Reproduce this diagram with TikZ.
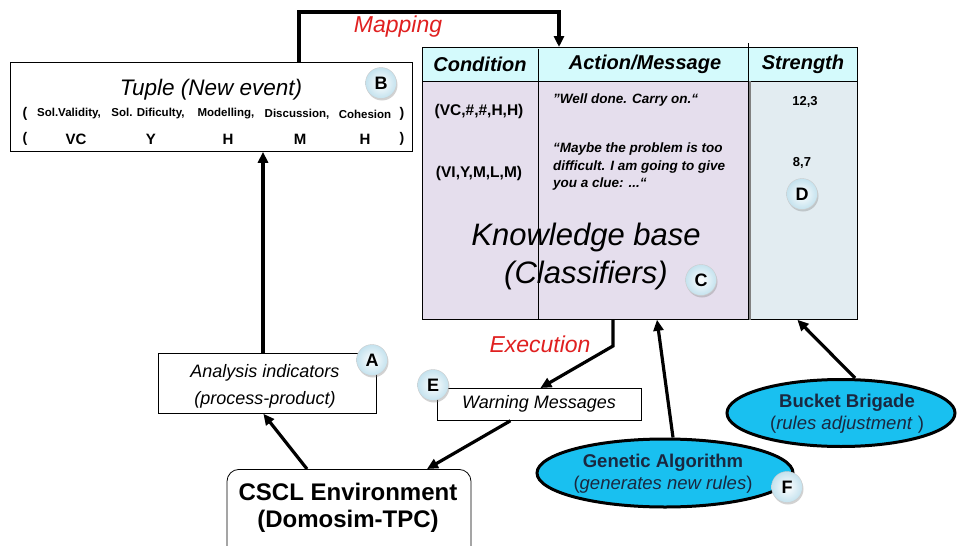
\documentclass[tikz,border=0pt]{standalone}
\usepackage{fontspec}
\setmainfont{Liberation Sans}
\usetikzlibrary{arrows.meta,shapes.geometric,shadows}
\newcommand\fsz[2]{\fontsize{#1}{#2}\selectfont}
\definecolor{hdrfill}{RGB}{212,250,252}
\definecolor{kbfill}{RGB}{229,222,237}
\definecolor{strfill}{RGB}{226,236,241}
\definecolor{ellfill}{RGB}{25,192,240}
\definecolor{elltext}{RGB}{26,40,64}
\definecolor{lblred}{RGB}{224,32,32}
\definecolor{ballout}{RGB}{196,226,238}
\tikzset{
  conn/.style={line width=3.2pt,-{Triangle[length=11pt,width=10pt]}},
  plainbox/.style={draw=black,line width=0.8pt,fill=white},
  ball/.style={circle,minimum size=31pt,inner sep=0pt,draw=gray!40,line width=0.4pt,
     inner color=white,outer color=ballout,
     drop shadow={shadow xshift=1pt,shadow yshift=-2pt,opacity=0.35},
     font=\fsz{18}{20}\bfseries},
  ell/.style={ellipse,draw=black,line width=3pt,fill=ellfill,text=elltext,align=center,inner sep=0pt},
  hdrtxt/.style={font=\fsz{20}{22}\bfseries\itshape},
  tsmall/.style={font=\fsz{11.5}{13}\bfseries},
  tbig/.style={font=\fsz{15}{17}\bfseries},
  cond/.style={font=\fsz{15.5}{18}\bfseries},
  msg/.style={font=\fsz{13.5}{17.5}\bfseries\itshape,align=left,anchor=north west,inner sep=0pt},
  redlbl/.style={text=lblred,font=\fsz{23}{25}\itshape},
}
\begin{document}
\begin{tikzpicture}[x=1pt,y=-1pt]
\clip (0,0) rectangle (959,546);
\fill[white] (0,0) rectangle (959,546);

% Tuple box
\node[plainbox,anchor=north west,minimum width=402pt,minimum height=89pt,inner sep=0pt] (tuple) at (10,62) {};
\node[font=\fsz{22.5}{24}\itshape] (ttitle) at (211,90) {Tuple (New event)};
\node[ball] (B) at (381,83) {B};
\node[tsmall,font=\fsz{14}{15}\bfseries] (p1l) at (25,114) {(};
\node[tsmall] (l1) at (69,114) {Sol.Validity,};
\node[tsmall] (l2) at (148,114) {Sol. Dificulty,};
\node[tsmall] (l3) at (226,114) {Modelling,};
\node[tsmall] (l4) at (297,114) {Discussion,};
\node[tsmall] (l5) at (365,114) {Cohesion};
\node[tsmall,font=\fsz{14}{15}\bfseries] (p1r) at (402,114) {)};
\node[tbig,font=\fsz{14}{15}\bfseries] (p2l) at (25,139) {(};
\node[tbig] (v1) at (76,139) {VC};
\node[tbig] (v2) at (151,139) {Y};
\node[tbig] (v3) at (228,139) {H};
\node[tbig] (v4) at (300,139) {M};
\node[tbig] (v5) at (365,139) {H};
\node[tbig,font=\fsz{14}{15}\bfseries] (p2r) at (402,139) {)};

% Table
\node[draw=black,line width=0.8pt,fill=hdrfill,anchor=north west,minimum width=435pt,minimum height=34pt,inner sep=0pt] (hdr) at (422,47) {};
\node[draw=black,line width=0.8pt,fill=kbfill,anchor=north west,minimum width=326pt,minimum height=238pt,inner sep=0pt] (kb) at (422,81) {};
\node[draw=black,line width=0.8pt,fill=strfill,anchor=north west,minimum width=108pt,minimum height=238pt,inner sep=0pt] (strb) at (749,81) {};
\draw[gray,line width=1.5pt] (strb.north west) ++(0.8,0) -- ([xshift=0.8pt]strb.south west);
\coordinate (div1) at (538,49);
\draw[line width=0.8pt] (div1) -- (kb.south -| div1);
\coordinate (div2) at (748,43);
\draw[line width=0.8pt] (div2) -- (hdr.south -| div2);
\node[hdrtxt] (hcond) at (480,64) {Condition};
\node[hdrtxt] (hact) at (645,64) {Action/Message};
\node[hdrtxt] (hstr) at (803,64) {Strength};

\node[cond] (c1) at (479,111) {(VC,\#,\#,H,H)};
\node[cond] (c2) at (479,173) {(VI,Y,M,L,M)};
\node[msg] (m1) at (553,94) {\char34 Well done. Carry on.“};
\node[msg] (m2) at (553,143) {“Maybe the problem is too\\difficult. I am going to give\\you a clue: ...“};
\node[font=\fsz{13}{15}\bfseries] (s1) at (805,102) {12,3};
\node[font=\fsz{13}{15}\bfseries] (s2) at (802,163) {8,7};
\node[ball] (D) at (802,194) {D};
\node[font=\fsz{31}{38}\itshape,align=center] (kbtxt) at (586,256) {Knowledge base\\(Classifiers)};
\node[ball] (C) at (701,280) {C};

% Mapping connector
\coordinate (mapL) at (299,12);
\coordinate (mapR) at (559,12);
\draw[conn] (tuple.north -| mapL) -- (mapL) -- (mapR) -- (hdr.north -| mapR);
\node[redlbl] (maplbl) at (398,27) {Mapping};

% Analysis indicators
\node[plainbox,anchor=north west,minimum width=218pt,minimum height=60pt,inner sep=0pt] (ana) at (158,353) {};
\node[font=\fsz{18}{27}\itshape,align=center] (anatxt) at (265,386) {Analysis indicators\\(\textit{process-product})};
\node[ball] (A) at (372,360) {A};
\coordinate (anaX) at (263,0);
\draw[conn] (ana.north -| anaX) -- (tuple.south -| anaX);

% Warning messages
\node[plainbox,anchor=north west,minimum width=204pt,minimum height=32pt,inner sep=0pt] (warn) at (437,388) {};
\node[font=\fsz{18}{20}\itshape] (warntxt) at (539,404) {Warning Messages};
\node[ball] (E) at (433,385) {E};
\node[redlbl] (exlbl) at (540,344) {Execution};
\coordinate (exA) at (613,346);
\draw[conn] (kb.south -| exA) -- (exA) -- ([xshift=1pt]warn.north);

% CSCL
\node[draw=black,line width=0.8pt,fill=white,rounded corners=12pt,anchor=north,minimum width=244pt,minimum height=90pt,inner sep=0pt] (cscl) at (349,469) {};
\node[font=\fsz{24}{27}\bfseries,align=center] (cscltxt) at (348,508) {CSCL Environment\\(Domosim-TPC)};
\draw[conn] ([xshift=-42pt]cscl.north) -- ([xshift=-4pt]ana.south);
\draw[conn] ([xshift=-29pt]warn.south) -- ([xshift=78pt]cscl.north);

% Ellipses
\node[ell,minimum width=256pt,minimum height=68pt] (ga) at (665,473) {};
\node[font=\fsz{18.5}{22},text=elltext,align=center] (gatxt) at (663,474) {\bfseries Genetic Algorithm\\(\textit{generates new rules})};
\node[ball] (F) at (787,487) {F};
\node[ell,minimum width=228pt,minimum height=67pt] (bb) at (841,413) {};
\node[font=\fsz{18.5}{22},text=elltext,align=center] (bbtxt) at (847,414) {\bfseries Bucket Brigade\\(\textit{rules adjustment} )};
\coordinate (gaX) at (657,0);
\draw[conn] ([xshift=8pt]ga.north) -- (kb.south -| gaX);
\draw[conn] ([xshift=14pt]bb.north) -- ([xshift=-6pt]strb.south);
\end{tikzpicture}
\end{document}
